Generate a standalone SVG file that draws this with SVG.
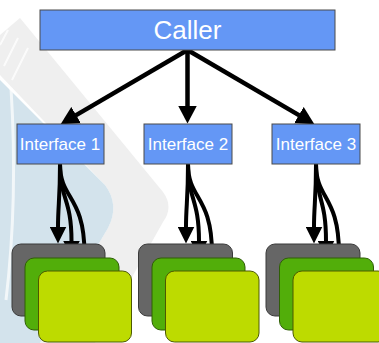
<svg xmlns="http://www.w3.org/2000/svg" width="379" height="343" viewBox="0 0 379 343">
<defs>
<style>
.box{fill:#6497f5;stroke:#4a4a4a;stroke-width:1}
.lbl{fill:#ffffff;font-family:"Liberation Sans",Arial,sans-serif;text-anchor:middle}
.g{fill:#666666;stroke:#3a3a3a;stroke-width:1}
.m{fill:#52ae0a;stroke:#2f5f05;stroke-width:1}
.y{fill:#bddb00;stroke:#4d5a00;stroke-width:1}
.c{fill:none;stroke:#000;stroke-width:4.5}
.cb{fill:none;stroke:#000;stroke-width:4}
</style>
<marker id="ah" markerUnits="userSpaceOnUse" markerWidth="19" markerHeight="19" refX="0.5" refY="9.5" orient="auto" viewBox="0 0 19 19">
<path d="M0,0 L18,9.5 L0,19 Z" fill="#000"/>
</marker>
<marker id="ahs" markerUnits="userSpaceOnUse" markerWidth="17" markerHeight="17" refX="0.5" refY="8.5" orient="auto" viewBox="0 0 17 17">
<path d="M0,0 L17,8.5 L0,17 Z" fill="#000"/>
</marker>
</defs>
<rect width="379" height="343" fill="#ffffff"/>
<g id="background">
<path d="M20,18 L163,192 Q174,207 163,222 L95,343 L40,343 L108,228 Q120,205 105,185 L0,75 L0,35 Z" fill="#efefef"/>
<path d="M0,80 L105,185 Q120,205 108,228 L40,343 L0,343 Z" fill="#d3e3ec"/>
<path d="M11,88 Q18,200 6,300" fill="none" stroke="#ffffff" stroke-width="3" opacity="0.7"/>
<g stroke="#ffffff" stroke-width="2" opacity="0.8">
<line x1="8" y1="30" x2="0" y2="45"/>
<line x1="18" y1="38" x2="4" y2="66"/>
<line x1="28" y1="48" x2="12" y2="80"/>
</g>
</g>
<g id="connectors">
<path class="c" d="M187.5,50 L75.7,115.4" marker-end="url(#ah)"/>
<path class="c" d="M187.5,50 L187.5,106" marker-end="url(#ah)"/>
<path class="c" d="M187.5,50 L299.3,115.4" marker-end="url(#ah)"/>
<path class="cb" d="M60,164 C60,200 58,205 58,227" marker-end="url(#ahs)"/>
<path class="cb" d="M60,164 C60,200 71.5,198 71.5,241" marker-end="url(#ahs)"/>
<path class="cb" d="M60,164 C60,200 84.5,195 84.5,254" marker-end="url(#ahs)"/>
<path class="cb" d="M188,164 C188,200 186,205 186,227" marker-end="url(#ahs)"/>
<path class="cb" d="M188,164 C188,200 199,198 199,241" marker-end="url(#ahs)"/>
<path class="cb" d="M188,164 C188,200 212,195 212,254" marker-end="url(#ahs)"/>
<path class="cb" d="M316,164 C316,200 314,205 314,227" marker-end="url(#ahs)"/>
<path class="cb" d="M316,164 C316,200 326,198 326,241" marker-end="url(#ahs)"/>
<path class="cb" d="M316,164 C316,200 339,195 339,254" marker-end="url(#ahs)"/>
</g>
<g id="caller"><rect class="box" x="40" y="10" width="295" height="40"/><text class="lbl" x="187.5" y="39" font-size="26">Caller</text></g>
<g id="interface1"><rect class="box" x="17" y="124" width="87" height="40"/><text class="lbl" x="60" y="150" font-size="17">Interface 1</text></g>
<g id="interface2"><rect class="box" x="144" y="124" width="88" height="40"/><text class="lbl" x="188" y="150" font-size="17">Interface 2</text></g>
<g id="interface3"><rect class="box" x="272" y="124" width="88" height="40"/><text class="lbl" x="316" y="150" font-size="17">Interface 3</text></g>
<g id="stack1">
<rect class="g" x="12" y="244" width="93" height="72" rx="9"/>
<rect class="m" x="25" y="258" width="94" height="72" rx="9"/>
<rect class="y" x="38.5" y="271" width="93" height="71" rx="9"/>
</g>
<g id="stack2">
<rect class="g" x="138.5" y="244" width="94" height="72" rx="9"/>
<rect class="m" x="152" y="258" width="93" height="72" rx="9"/>
<rect class="y" x="165.5" y="271" width="93.5" height="71" rx="9"/>
</g>
<g id="stack3">
<rect class="g" x="266" y="244" width="94" height="72" rx="9"/>
<rect class="m" x="279.5" y="258" width="94" height="72" rx="9"/>
<rect class="y" x="293" y="271" width="94" height="71" rx="9"/>
</g>
</svg>
